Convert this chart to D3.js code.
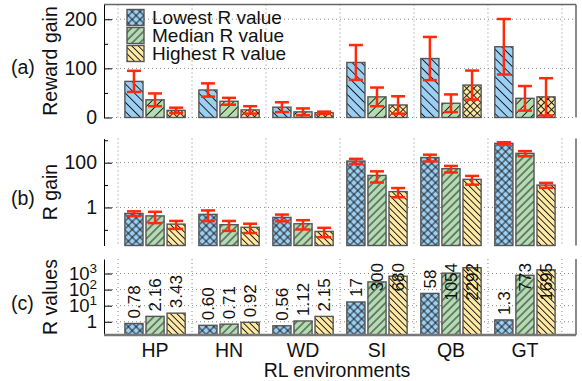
<!DOCTYPE html>
<html>
<head>
<meta charset="utf-8">
<script src="https://cdn.jsdelivr.net/npm/d3@7"></script>
<style>
  body { margin: 0; background: #fff; }
  svg { display: block; }
</style>
</head>
<body>
<script>
const categories = ["HP", "HN", "WD", "SI", "QB", "GT"];
const seriesNames = ["Lowest R value", "Median R value", "Highest R value"];

// (a) reward gain, mean and half error
const rewardGain = [[73.5, 36, 14.5], [56, 33, 15.5], [21, 11.5, 9.7], [112, 42, 25.5], [120, 29, 66], [144, 39, 42]];
const rewardErr = [[21.5, 13, 5.5], [13.5, 7, 7.5], [10, 7, 2.3], [35.5, 19, 17.7], [44, 18, 29.5], [56.5, 25, 38]];

// (b) R gain (log axis)
const rGain = [[0.54, 0.42, 0.18], [0.49, 0.17, 0.13], [0.36, 0.187, 0.085], [118, 27, 5.1], [170, 54, 18], [730, 260, 10]];
const rGainErr = [[0.13, 0.22, 0.07], [0.245, 0.08, 0.058], [0.12, 0.083, 0.038], [30, 14, 2.25], [57, 17.5, 7.6], [85, 67, 2.5]];

// (c) R values, as printed above the bars
const rValues = [["0.78", "2.16", "3.43"], ["0.60", "0.71", "0.92"], ["0.56", "1.12", "2.15"],
                 ["17", "300", "680"], ["58", "1054", "2292"], ["1.3", "773", "1695"]];

const ticksA = [0, 100, 200], minorA = [50, 150];
const ticksB = [1, 100], minorB = [0.1, 10, 1000];
const ticksC = [1, 10, 100, 1000];

const W = 582, H = 381;
const font = "'Liberation Sans', Arial, Helvetica, sans-serif";
const fs = 19.5;
const colors = ["#9ccff4", "#b4dcb2", "#fde9a3"];
const errColor = "#ff2a0a";

const svg = d3.select("body").append("svg")
  .attr("width", W).attr("height", H)
  .style("font-family", font);
svg.append("rect").attr("width", W).attr("height", H).attr("fill", "#fff");

// hatch patterns
const defs = svg.append("defs");
function addPattern(id, color, kind, s) {
  const p = defs.append("pattern")
    .attr("id", id)
    .attr("patternUnits", "userSpaceOnUse")
    .attr("width", s).attr("height", s)
    .attr("patternTransform", `rotate(${kind === "back" ? -45 : 45})`);
  p.append("rect").attr("width", s).attr("height", s).attr("fill", color);
  p.append("line").attr("x1", s / 2).attr("x2", s / 2).attr("y1", 0).attr("y2", s)
    .attr("stroke", "#111").attr("stroke-width", 0.9);
  if (kind === "cross") {
    p.append("line").attr("y1", s / 2).attr("y2", s / 2).attr("x1", 0).attr("x2", s)
      .attr("stroke", "#111").attr("stroke-width", 0.9);
  }
}
addPattern("aLow", colors[0], "back", 6.5);
addPattern("aMed", colors[1], "fwd", 6.5);
addPattern("aHigh", colors[2], "cross", 5);
addPattern("bLow", colors[0], "cross", 5.5);
addPattern("bMed", colors[1], "fwd", 5.5);
addPattern("bHigh", colors[2], "back", 4.5);
const patA = ["aLow", "aMed", "aHigh"];
const patB = ["bLow", "bMed", "bHigh"];

const x = d3.scaleLinear().domain([-0.69, 5.69]).range([104, 576]);
const offsets = [-0.285, 0, 0.285];
const barW = x(0.245) - x(0);

const yA = d3.scaleLinear().domain([0, 230]).range([117.5, 4.5]);
const yB = d3.scaleLog().domain([0.02, 1200]).range([245.5, 138.5]);
const yC = d3.scaleLog().domain([0.15, 8000]).range([335, 259]);

function flat(vals, errs) {
  return categories.flatMap((c, i) => seriesNames.map((s, j) => ({
    i, j, v: +vals[i][j], e: errs ? errs[i][j] : 0, t: vals[i][j]
  })));
}

function panel(y, ticks) {
  const [bot, top] = y.range();
  const g = svg.append("g");
  // grid
  const grid = g.append("g").attr("stroke", "#888").attr("stroke-width", 1)
    .attr("stroke-dasharray", "1,3");
  d3.range(-0.5, 6, 1).forEach(k => {
    grid.append("line").attr("x1", x(k)).attr("x2", x(k)).attr("y1", top).attr("y2", bot);
  });
  ticks.forEach(t => {
    grid.append("line").attr("x1", x.range()[0]).attr("x2", x.range()[1])
      .attr("y1", y(t)).attr("y2", y(t));
  });
  // right border
  g.append("line").attr("x1", 576).attr("x2", 576).attr("y1", top).attr("y2", bot)
    .attr("stroke", "#666").attr("stroke-width", 1.5);
  return g;
}

function leftAxis(y, ticks, minor, fmt, size) {
  const ax = svg.append("g").attr("transform", `translate(${x.range()[0]},0)`)
    .call(d3.axisLeft(y).tickValues(ticks).tickSize(-8).tickSizeOuter(0)
      .tickPadding(7).tickFormat(fmt));
  ax.select(".domain").attr("stroke", "#000");
  ax.selectAll("text").attr("font-size", size || fs).attr("font-family", font).attr("fill", "#111");
  if (minor.length) {
    const mx = svg.append("g").attr("transform", `translate(${x.range()[0]},0)`)
      .call(d3.axisLeft(y).tickValues(minor).tickSize(-4).tickSizeOuter(0).tickFormat(""));
    mx.select(".domain").remove();
  }
  return ax;
}

function bars(y, data, pats) {
  const base = y.range()[0];
  svg.append("g").selectAll("rect").data(data).enter().append("rect")
    .attr("x", d => x(d.i + offsets[d.j]) - barW / 2)
    .attr("width", barW)
    .attr("y", d => y(d.v))
    .attr("height", d => base - y(d.v))
    .attr("fill", d => `url(#${pats[d.j]})`)
    .attr("stroke", "#555").attr("stroke-width", 1.4);
}

function errorBars(y, data) {
  const g = svg.append("g").attr("stroke", errColor).attr("stroke-width", 2.5);
  data.forEach(d => {
    const cx = x(d.i + offsets[d.j]);
    const y1 = y(d.v - d.e), y2 = y(d.v + d.e);
    g.append("line").attr("x1", cx).attr("x2", cx).attr("y1", y1).attr("y2", y2);
    g.append("line").attr("x1", cx - 7).attr("x2", cx + 7).attr("y1", y1).attr("y2", y1);
    g.append("line").attr("x1", cx - 7).attr("x2", cx + 7).attr("y1", y2).attr("y2", y2);
  });
}

// ---- panel (a)
panel(yA, ticksA);
svg.append("line").attr("x1", 104).attr("x2", 576).attr("y1", 4.5).attr("y2", 4.5)
  .attr("stroke", "#666").attr("stroke-width", 1.5);
const dataA = flat(rewardGain, rewardErr);
bars(yA, dataA, patA);
errorBars(yA, dataA);
leftAxis(yA, ticksA, minorA, d3.format("d"));

// legend
const leg = svg.append("g");
seriesNames.forEach((s, j) => {
  const cy = 17.5 + j * 18;
  leg.append("rect").attr("x", 127).attr("y", cy - 8).attr("width", 17).attr("height", 16)
    .attr("fill", `url(#${patB[j]})`).attr("stroke", "#555").attr("stroke-width", 1.4);
  leg.append("text").attr("x", 152).attr("y", cy).attr("dy", "0.35em")
    .attr("font-size", 19).attr("fill", "#111").text(s);
});

// ---- panel (b)
panel(yB, ticksB);
const dataB = flat(rGain, rGainErr);
bars(yB, dataB, patB);
errorBars(yB, dataB);
leftAxis(yB, ticksB, minorB, d3.format("d"));

// ---- panel (c)
panel(yC, ticksC);
const dataC = flat(rValues, null);
bars(yC, dataC, patB);
const axC = leftAxis(yC, ticksC, [], () => "", 18.5);
axC.selectAll(".tick text").each(function(d) {
  const t = d3.select(this);
  if (d === 1) { t.text("1"); return; }
  t.append("tspan").text("10");
  t.append("tspan").attr("font-size", 13.5).attr("dy", "-0.55em").text(Math.round(Math.log10(d)));
});
svg.append("line").attr("x1", 104).attr("x2", 576).attr("y1", 335).attr("y2", 335)
  .attr("stroke", "#777").attr("stroke-width", 2.5);

// value labels, rotated
const labTop = yC.range()[1] + 4;
const labs = svg.append("g");
dataC.forEach(d => {
  const cx = x(d.i + offsets[d.j]);
  const t = labs.append("text").attr("font-size", 17).attr("fill", "#111").text(d.t);
  const len = t.node().getComputedTextLength();
  let start = yC(d.v) - 5;
  if (start - len < labTop) start = labTop + len;
  t.attr("transform", `translate(${cx + 6},${start}) rotate(-90)`);
});

// x category labels
svg.append("g").selectAll("text").data(categories).enter().append("text")
  .attr("x", (d, i) => x(i)).attr("y", 357)
  .attr("text-anchor", "middle").attr("font-size", fs).attr("fill", "#111")
  .text(d => d);
svg.append("text").attr("x", x(2.5) - 3).attr("y", 377).attr("text-anchor", "middle")
  .attr("font-size", fs).attr("fill", "#111").text("RL environments");

// y titles and panel letters
const titles = [["(a)", "Reward gain", yA], ["(b)", "R gain", yB], ["(c)", "R values", yC]];
titles.forEach(([letter, title, y]) => {
  const cy = (y.range()[0] + y.range()[1]) / 2;
  svg.append("text").attr("x", 11).attr("y", cy + 6).attr("dy", "0.35em")
    .attr("font-size", fs).attr("fill", "#111").text(letter);
  svg.append("text").attr("transform", `translate(57,${cy}) rotate(-90)`)
    .attr("text-anchor", "middle").attr("font-size", fs).attr("fill", "#111").text(title);
});
</script>
</body>
</html>
